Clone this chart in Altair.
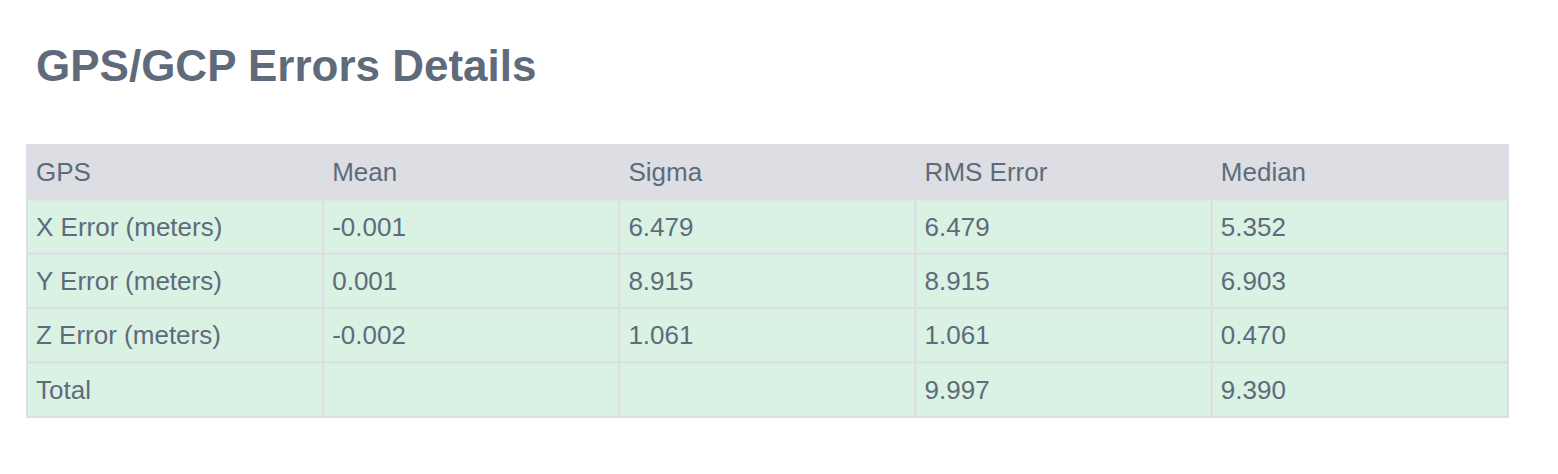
import altair as alt
import pandas as pd

columns = ["GPS", "Mean", "Sigma", "RMS Error", "Median"]
row_labels = ["X Error (meters)", "Y Error (meters)", "Z Error (meters)", "Total"]
mean = ["-0.001", "0.001", "-0.002", ""]
sigma = ["6.479", "8.915", "1.061", ""]
rms = ["6.479", "8.915", "1.061", "9.997"]
median = ["5.352", "6.903", "0.470", "9.390"]

cells = []
for c, name in enumerate(columns):
    cells.append({"col": c, "row": 0, "text": name, "header": True})
for r, vals in enumerate(zip(row_labels, mean, sigma, rms, median)):
    for c, v in enumerate(vals):
        cells.append({"col": c, "row": r + 1, "text": v, "header": False})
df = pd.DataFrame(cells)
df["col2"] = df["col"] + 1
df["row2"] = df["row"] + 1
df["rowm"] = df["row"] + 0.5

W, H = 1481, 272
xs = alt.Scale(domain=[0, 5], range=[0, W])
ys = alt.Scale(domain=[0, 5], range=[0, H])

base = alt.Chart(df)
rects = base.mark_rect(stroke="#dcdee3", strokeWidth=2).encode(
    x=alt.X("col:Q", scale=xs, axis=None),
    x2="col2:Q",
    y=alt.Y("row:Q", scale=ys, axis=None),
    y2="row2:Q",
    fill=alt.condition("datum.header", alt.value("#dcdee3"), alt.value("#d9f2e4")),
)
texts = base.mark_text(
    align="left", baseline="middle", dx=9, dy=1, fontSize=26,
    font="Liberation Sans", color="#5f6b7a",
).encode(
    x=alt.X("col:Q", scale=xs, axis=None),
    y=alt.Y("rowm:Q", scale=ys, axis=None),
    text="text:N",
)
title = alt.Chart(pd.DataFrame({"t": ["GPS/GCP Errors Details"]})).mark_text(
    align="left", baseline="alphabetic", fontSize=44, fontWeight="bold",
    font="Liberation Sans", color="#5f6b7a",
).encode(x=alt.value(9), y=alt.value(-64), text="t:N")

chart = (
    alt.layer(rects, texts, title)
    .properties(
        width=W, height=H,
        autosize=alt.AutoSizeParams(type="none"),
        padding={"left": 19, "top": 137, "right": 30, "bottom": 40},
    )
    .configure_view(stroke=None)
    .configure(background="white")
)
chart.save("out.html", embed_options={"renderer": "svg", "actions": False})
